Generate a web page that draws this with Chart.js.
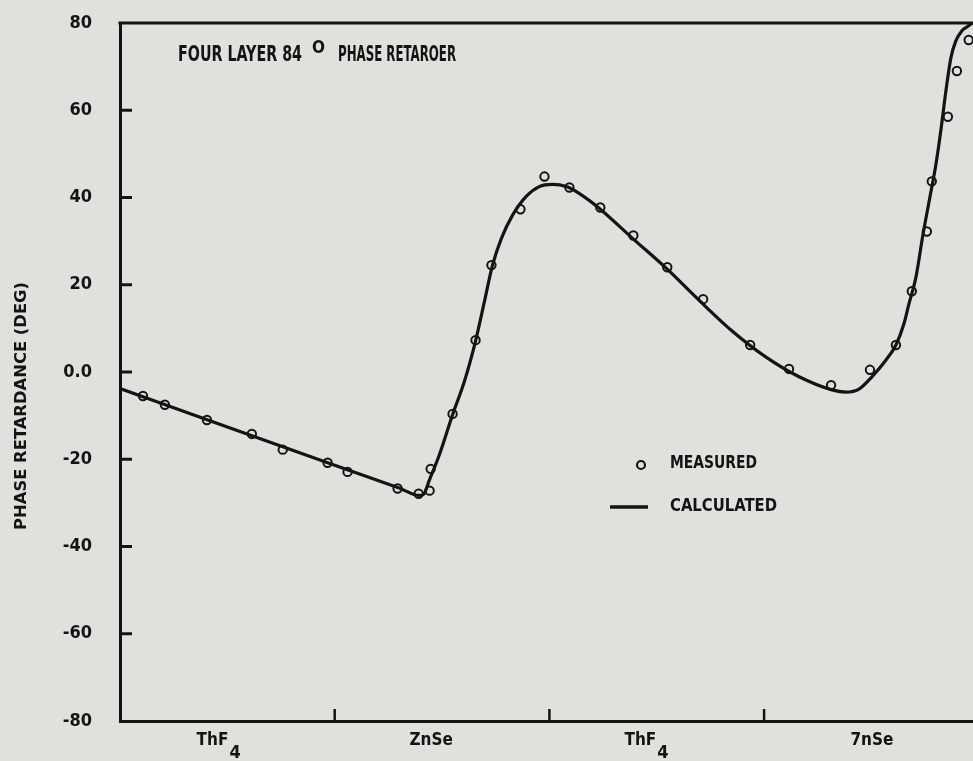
<!DOCTYPE html>
<html><head><meta charset="utf-8">
<script src="https://cdn.jsdelivr.net/npm/chart.js@4.4.1/dist/chart.umd.min.js"></script>
<style>
html,body{margin:0;padding:0;background:#e0e0dc;overflow:hidden;width:973px;height:761px}
#wrap{position:absolute;left:0;top:0;width:985px;height:761px}
canvas{display:block}
</style></head>
<body><div id="wrap"><canvas id="c" width="985" height="761"></canvas></div>
<script>
// ---- data ----
const measuredX = [0.107,0.209,0.405,0.614,0.758,0.967,1.060,1.293,1.391,1.442,1.447,1.549,1.656,1.730,1.865,1.977,2.093,2.237,2.391,2.549,2.716,2.935,3.116,3.312,3.493,3.614,3.688,3.758,3.781,3.856,3.898,3.953];
const measuredY = [-5.5,-7.5,-11.0,-14.2,-17.8,-20.8,-22.9,-26.7,-27.9,-27.2,-22.2,-9.6,7.3,24.5,37.3,44.8,42.3,37.7,31.3,24.0,16.7,6.2,0.7,-3.0,0.5,6.2,18.5,32.2,43.7,58.5,69.0,76.1];
const calcX = [0.000,0.500,1.000,1.300,1.395,1.415,1.440,1.488,1.549,1.605,1.656,1.698,1.735,1.777,1.828,1.893,1.953,2.014,2.079,2.140,2.233,2.386,2.544,2.698,2.851,3.009,3.163,3.316,3.381,3.442,3.502,3.567,3.614,3.651,3.674,3.707,3.740,3.772,3.800,3.823,3.847,3.870,3.893,3.921,3.944,3.980];
const calcY = [-3.8,-12.6,-21.4,-26.6,-28.3,-28.0,-24.9,-18.9,-9.8,-2.0,7.1,16.3,24.5,30.7,35.9,40.3,42.5,43.0,42.5,40.9,37.5,30.7,23.8,16.4,9.4,3.4,-1.1,-4.1,-4.6,-3.9,-1.1,2.7,6.2,11.0,15.5,21.7,31.5,40.0,47.5,55.3,64.5,72.0,75.9,78.2,79.1,80.3];
const yTickValues = [-80,-60,-40,-20,0,20,40,60,80];
const yTickLabels = ['-80','-60','-40','-20','0.0','20','40','60','80'];
const xTickMarks = [1,2,3];
const xLabelPos = [0.458,1.449,2.451,3.502];
const xLabelMain = ['ThF','ZnSe','ThF','7nSe'];
const xLabelSub = ['4','','4',''];
const seriesNames = ['MEASURED','CALCULATED'];
const yTitle = 'PHASE RETARDANCE (DEG)';
const titleParts = ['FOUR LAYER 84','O','PHASE RETAROER'];

const FONT = '"DejaVu Sans Condensed","Liberation Sans Narrow","DejaVu Sans",sans-serif';
const INK = '#141414';

function fitText(ctx, text, x, y, w, size, align, weight) {
  ctx.save();
  ctx.font = (weight || 'bold') + ' ' + size + 'px ' + FONT;
  const m = ctx.measureText(text).width;
  const sx = w / m;
  ctx.translate(x, y);
  ctx.scale(sx, 1);
  ctx.fillStyle = INK;
  ctx.textAlign = align || 'left';
  ctx.textBaseline = 'middle';
  ctx.fillText(text, 0, 0);
  ctx.restore();
}

const deco = {
  id: 'deco',
  afterDraw(chart) {
    const ctx = chart.ctx, a = chart.chartArea;
    const xs = chart.scales.x, ys = chart.scales.y;
    ctx.save();
    ctx.strokeStyle = INK;
    ctx.lineCap = 'butt';
    // top border
    ctx.lineWidth = 3;
    ctx.beginPath(); ctx.moveTo(a.left - 1.5, a.top); ctx.lineTo(chart.width, a.top); ctx.stroke();
    // y tick marks inside
    ctx.lineWidth = 3;
    yTickValues.forEach(v => {
      if (v === -80 || v === 80) return;
      const py = ys.getPixelForValue(v);
      ctx.beginPath(); ctx.moveTo(a.left, py); ctx.lineTo(a.left + 12, py); ctx.stroke();
    });
    // x tick marks inside
    ctx.lineWidth = 2.5;
    xTickMarks.forEach(v => {
      const px = xs.getPixelForValue(v);
      ctx.beginPath(); ctx.moveTo(px, a.bottom); ctx.lineTo(px, a.bottom - 12); ctx.stroke();
    });
    // x category labels with subscripts
    ctx.fillStyle = INK;
    xLabelMain.forEach((t, i) => {
      ctx.font = 'bold 17px ' + FONT;
      const wMain = ctx.measureText(t).width;
      const wSub = xLabelSub[i] ? ctx.measureText(xLabelSub[i]).width + 1 : 0;
      const cx = xs.getPixelForValue(xLabelPos[i]);
      const x0 = cx - (wMain + wSub) / 2;
      ctx.textAlign = 'left'; ctx.textBaseline = 'middle';
      ctx.fillText(t, x0, a.bottom + 20);
      if (xLabelSub[i]) { ctx.font = 'bold 18px ' + FONT; ctx.fillText(xLabelSub[i], x0 + wMain + 1, a.bottom + 32); }
    });
    // y axis title
    ctx.save();
    ctx.translate(22, 406);
    ctx.rotate(-Math.PI / 2);
    fitText(ctx, yTitle, -124, 0, 248, 16, 'left');
    ctx.restore();
    // chart title annotation
    fitText(ctx, titleParts[0], 178, 55, 124, 22, 'left');
    fitText(ctx, titleParts[1], 312, 48, 13, 18, 'left');
    fitText(ctx, titleParts[2], 338, 55, 118, 22, 'left');
    // legend
    ctx.lineWidth = 2.2;
    ctx.beginPath(); ctx.arc(641, 465, 4, 0, Math.PI * 2); ctx.stroke();
    fitText(ctx, chart.data.datasets[0].label, 670, 463, 87, 18, 'left');
    ctx.lineWidth = 3.5;
    ctx.beginPath(); ctx.moveTo(610, 507); ctx.lineTo(648, 507); ctx.stroke();
    fitText(ctx, chart.data.datasets[1].label, 670, 506, 107, 18, 'left');
    ctx.restore();
  }
};

new Chart(document.getElementById('c'), {
  type: 'scatter',
  data: {
    datasets: [
      {
        label: seriesNames[0],
        data: measuredX.map((x, i) => ({x, y: measuredY[i]})),
        showLine: false,
        pointRadius: 4.2,
        pointBorderWidth: 2,
        pointBorderColor: INK,
        pointBackgroundColor: 'rgba(0,0,0,0)'
      },
      {
        label: seriesNames[1],
        data: calcX.map((x, i) => ({x, y: calcY[i]})),
        showLine: true,
        cubicInterpolationMode: 'monotone',
        borderColor: INK,
        borderWidth: 3.2,
        pointRadius: 0,
        fill: false
      }
    ]
  },
  options: {
    responsive: false,
    animation: false,
    devicePixelRatio: 1,
    layout: { padding: { top: 23, right: 5, left: 0, bottom: 0 } },
    plugins: { legend: { display: false }, tooltip: { enabled: false } },
    scales: {
      x: {
        type: 'linear', min: 0, max: 4,
        grid: { display: false },
        border: { display: true, width: 3, color: INK },
        ticks: { display: false },
        afterFit(s) { s.height = 40; s.paddingLeft = 0; s.paddingRight = 0; }
      },
      y: {
        type: 'linear', min: -80, max: 80,
        afterBuildTicks(s) { s.ticks = yTickValues.map(v => ({ value: v })); },
        grid: { display: false, drawTicks: false },
        border: { display: true, width: 3, color: INK },
        ticks: {
          padding: 28,
          color: INK,
          font: { family: FONT, size: 18, weight: 'bold' },
          callback(v) { const i = yTickValues.indexOf(v); return i >= 0 ? yTickLabels[i] : ''; }
        },
        afterFit(s) { s.width = 120; s.paddingTop = 10; s.paddingBottom = 10; }
      }
    }
  },
  plugins: [deco]
});
</script>
</body></html>
